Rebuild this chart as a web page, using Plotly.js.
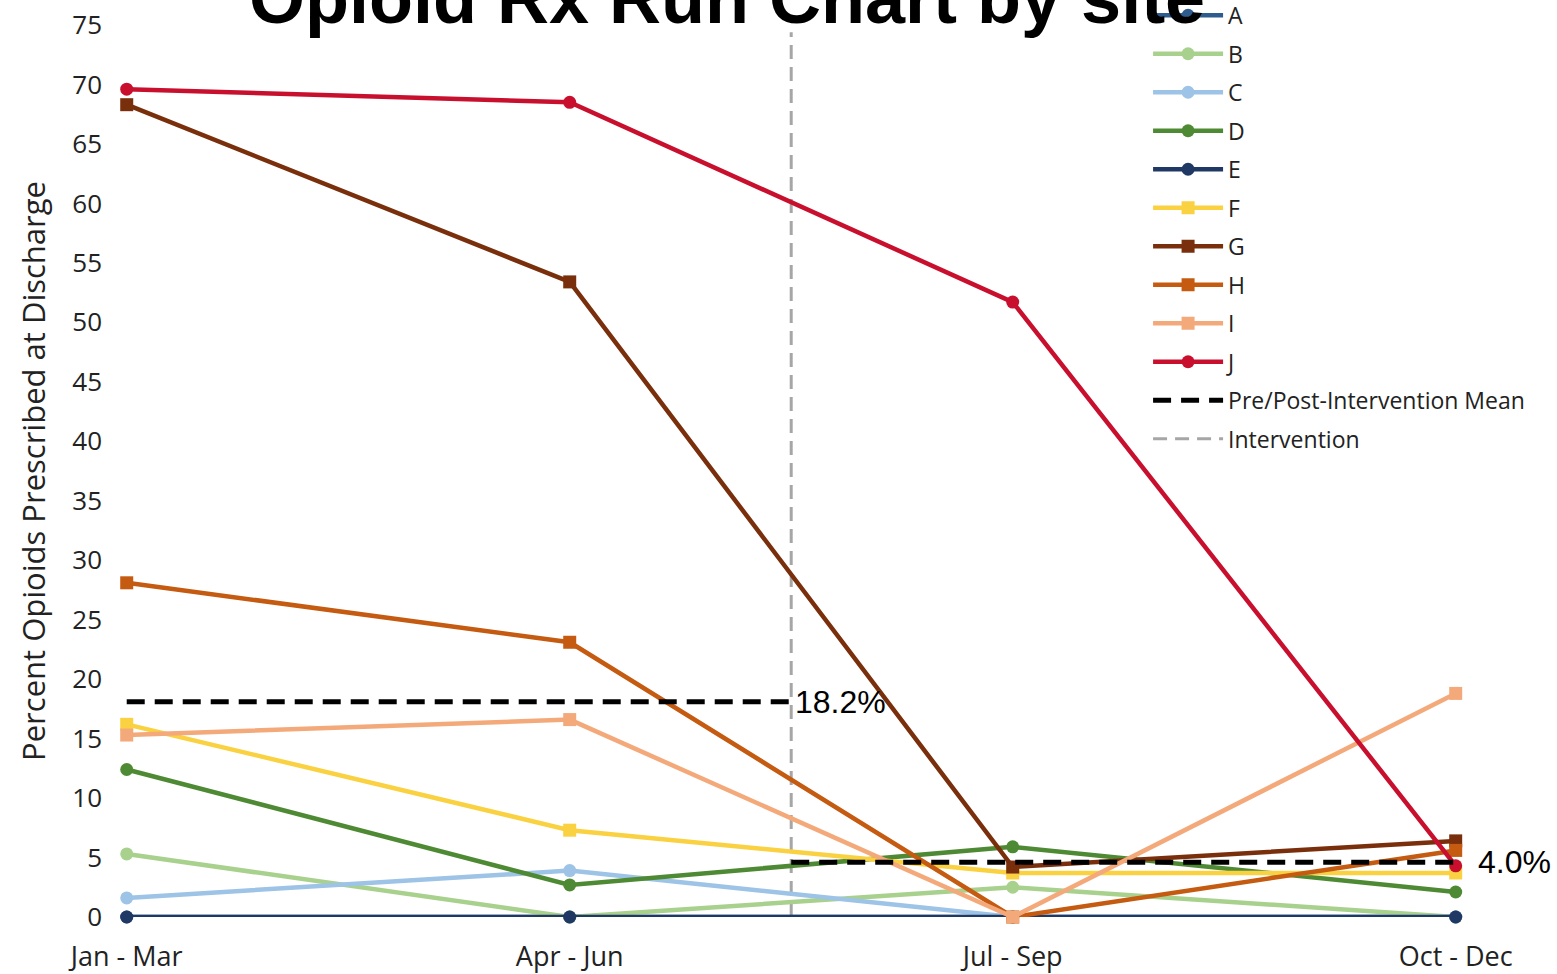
<!DOCTYPE html>
<html>
<head>
<meta charset="utf-8">
<script src="https://cdn.plot.ly/plotly-3.0.1.min.js"></script>
<style>html,body{margin:0;padding:0;background:#fff;}#chart{width:1557px;height:974px;}</style>
</head>
<body>
<div id="chart"></div>
<script>
// Quarters (x categories)
const quarters = ["Jan - Mar", "Apr - Jun", "Jul - Sep", "Oct - Dec"];
const quarterIdx = [0, 1, 2, 3];

// Percent of opioids prescribed at discharge, by site
const siteA = [0, 0, 0, 0];
const siteB = [5.3, 0, 2.5, 0];
const siteC = [1.6, 3.9, 0, 0];
const siteD = [12.4, 2.7, 5.9, 2.1];
const siteE = [0, 0, 0, 0];
const siteF = [16.2, 7.3, 3.7, 3.7];
const siteG = [68.3, 53.4, 4.2, 6.4];
const siteH = [28.1, 23.1, 0, 5.6];
const siteI = [15.3, 16.6, 0, 18.8];
const siteJ = [69.6, 68.5, 51.7, 4.3];

// Pre / post intervention means
const interventionAt = 1.5;
const preMean = 18.1;
const postMean = 4.6;
const preLabel = "18.2%";
const postLabel = "4.0%";
const interventionTop = 74.4;

const sites = [
  {name: "A", y: siteA, color: "#2F5C8F", symbol: "circle"},
  {name: "B", y: siteB, color: "#A9D18E", symbol: "circle"},
  {name: "C", y: siteC, color: "#9DC3E6", symbol: "circle"},
  {name: "D", y: siteD, color: "#4E8A33", symbol: "circle"},
  {name: "E", y: siteE, color: "#1F3864", symbol: "circle"},
  {name: "F", y: siteF, color: "#FAD140", symbol: "square"},
  {name: "G", y: siteG, color: "#7A2F0C", symbol: "square"},
  {name: "H", y: siteH, color: "#C55A11", symbol: "square"},
  {name: "I", y: siteI, color: "#F4A97A", symbol: "square"},
  {name: "J", y: siteJ, color: "#C8102E", symbol: "circle"}
];

const traces = [];
// intervention line drawn first (behind), listed last in legend
traces.push({
  type: "scatter", mode: "lines", name: "Intervention",
  x: [interventionAt, interventionAt], y: [0, interventionTop],
  line: {color: "#A6A6A6", width: 3, dash: "14px,8px"},
  legendgroup: "int", legendrank: 1200, hoverinfo: "skip", cliponaxis: false
});
sites.forEach((s, i) => {
  traces.push({
    type: "scatter", mode: "lines+markers", name: s.name,
    x: quarterIdx, y: s.y,
    line: {color: s.color, width: 4.5},
    marker: {color: s.color, size: 13, symbol: s.symbol},
    legendgroup: s.name, legendrank: 100 * (i + 1),
    cliponaxis: false
  });
});
traces.push({
  type: "scatter", mode: "lines", name: "Pre/Post-Intervention Mean",
  x: [quarterIdx[0], interventionAt, null, interventionAt, quarterIdx[3]],
  y: [preMean, preMean, null, postMean, postMean],
  line: {color: "#000000", width: 5, dash: "18px,10px"},
  legendgroup: "mean", legendrank: 1100, cliponaxis: false
});

const layout = {
  width: 1557, height: 974,
  paper_bgcolor: "#ffffff", plot_bgcolor: "#ffffff",
  margin: {l: 109, r: 57, t: 25, b: 57, autoexpand: false},
  showlegend: true,
  title: {
    text: "<b>Opioid Rx Run Chart by site</b>",
    font: {family: "Liberation Sans, Arial, sans-serif", size: 72, color: "#000"},
    xref: "container", x: 0.467, xanchor: "center",
    yref: "container", y: 0.976, yanchor: "bottom"
  },
  xaxis: {
    range: [-0.04, 3.1],
    tickmode: "array", tickvals: quarterIdx, ticktext: quarters,
    showgrid: false, zeroline: false, showline: false, ticks: "",
    tickfont: {family: "Open Sans, sans-serif", size: 27, color: "#222"},
    ticklabelstandoff: 21
  },
  yaxis: {
    range: [0, 75], dtick: 5, tick0: 0,
    showgrid: false, zeroline: false, showline: false, ticks: "",
    tickfont: {family: "Open Sans, sans-serif", size: 26, color: "#222"},
    ticklabelstandoff: 6,
    title: {text: "Percent Opioids Prescribed at Discharge",
            font: {family: "Open Sans, sans-serif", size: 31, color: "#222"},
            standoff: 17}
  },
  legend: {
    x: 0.747, xanchor: "left", y: 1.035, yanchor: "top",
    bgcolor: "rgba(0,0,0,0)", borderwidth: 0,
    font: {family: "Open Sans, sans-serif", size: 23, color: "#222"},
    itemwidth: 70, tracegroupgap: 5.6, traceorder: "grouped"
  },
  annotations: [
    {x: interventionAt, y: preMean, xref: "x", yref: "y", text: preLabel, showarrow: false,
     xanchor: "left", yanchor: "middle", xshift: 2,
     font: {family: "Liberation Sans, Arial, sans-serif", size: 32, color: "#000"}},
    {x: quarterIdx[3], y: postMean, xref: "x", yref: "y", text: postLabel, showarrow: false,
     xanchor: "left", yanchor: "middle", xshift: 20,
     font: {family: "Liberation Sans, Arial, sans-serif", size: 32, color: "#000"}}
  ]
};

Plotly.newPlot("chart", traces, layout, {displayModeBar: false, responsive: false});
</script>
</body>
</html>
